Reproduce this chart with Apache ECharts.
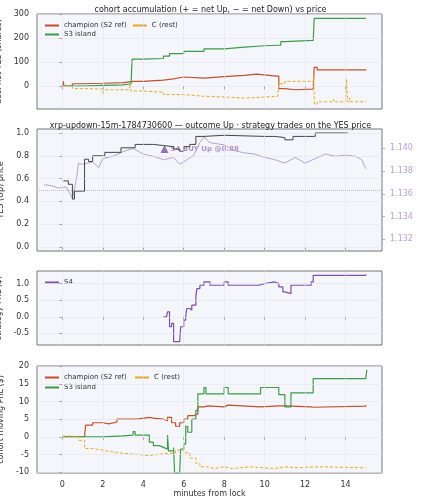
<!DOCTYPE html>
<html><head><meta charset="utf-8">
<script src="https://cdn.jsdelivr.net/npm/echarts@6/dist/echarts.min.js"></script>
<style>html,body{margin:0;padding:0;background:#fff}#c{width:421px;height:500px}</style>
</head><body><div id="c"></div>
<script>
// panel 1: accumulated net YES shares
var accChampion = [[0,0],[0.05,20],[0.08,0],[0.5,10],[1,12],[2,15],[3,20],[3.5,20],[4,25],[5,30],[5.5,35],[5.8,38],[6,33],[7,40],[8,45],[9,50],[9.6,42],[10.6,42],[10.7,-10],[11,-15],[11.5,-12],[12.4,-12],[12.45,78],[12.6,68],[15,65]];
var accS3 = [[0,0],[1,3],[2,5],[3,10],[3.4,10],[3.45,112],[4,115],[5,125],[5.3,135],[6,145],[7,155],[8,162],[9,168],[10,170],[10.7,170],[10.8,185],[11,190],[12.4,193],[12.45,282],[15,282]];
var accC = [[0,0],[0.5,-10],[1,-12],[2,-15],[2.02,-35],[2.05,-15],[3.3,-18],[3.35,10],[3.4,-20],[4,-25],[5,-35],[6,-42],[7,-45],[8,-50],[9,-45],[10,-42],[10.65,-42],[10.7,10],[11,20],[12.4,10],[12.42,40],[12.46,-75],[12.6,-65],[13,-60],[13.05,-65],[13.4,-55],[13.45,-65],[14,-60],[14.05,30],[14.1,-65],[14.2,-50],[14.25,-65],[15,-65]];
// panel 2: YES price and XRP/USD
var yesPrice = [[0.05,0.58],[0.3,0.55],[0.5,0.42],[0.6,0.49],[1,0.49],[1.1,0.77],[1.3,0.75],[1.5,0.8],[2,0.8],[2.1,0.83],[2.8,0.83],[2.9,0.87],[3.5,0.87],[3.6,0.9],[4.2,0.9],[4.5,0.89],[5,0.88],[5.5,0.86],[5.8,0.84],[6.0,0.88],[6.3,0.9],[6.6,0.97],[7,0.98],[8,0.97],[10,0.97],[10.5,0.96],[11,0.94],[11.4,0.97],[12.4,0.97],[12.5,1.0],[14.1,1.0]];
var xrpUsd = [[-0.9,1.1368],[-0.5,1.1367],[-0.2,1.1365],[0.2,1.1366],[0.5,1.1356],[0.7,1.1373],[0.8,1.1387],[1,1.1386],[1.5,1.1388],[1.8,1.1383],[2,1.1391],[2.5,1.1393],[3,1.1397],[3.5,1.14],[4,1.1395],[4.5,1.1393],[5,1.139],[5.5,1.1392],[5.8,1.1386],[6,1.1388],[6.5,1.1394],[6.8,1.1405],[7,1.141],[7.3,1.1405],[8,1.1403],[8.5,1.1398],[9,1.1396],[9.5,1.1395],[10,1.1392],[10.5,1.139],[11,1.1387],[11.5,1.1392],[12,1.1387],[12.5,1.1391],[13,1.1395],[13.5,1.1393],[14,1.1394],[14.5,1.1393],[14.8,1.139],[15,1.1382]];
var trades = [[5.05,0.86]];
var tradeLabel = 'S4 BUY Up @0.88';
// panel 3: S4 strategy PnL
var pnlS4 = [[5,0],[5.15,0],[5.2,0.15],[5.3,-0.3],[5.4,-0.2],[5.5,-0.75],[5.8,-0.75],[5.85,-0.3],[6,-0.1],[6.1,0],[6.15,0.25],[6.3,0.2],[6.4,0.35],[6.6,0.6],[6.65,0.85],[6.8,0.95],[7,1.05],[7.3,0.95],[8,1.05],[8.2,0.95],[9.7,1.0],[10,1.05],[10.5,1.0],[10.7,0.9],[10.9,0.75],[11,0.7],[11.3,0.95],[12.3,1.05],[12.4,1.25],[14,1.25],[15,1.28]];
// panel 4: cohort moving PnL
var pnlChampion = [[0,0],[1.1,0],[1.15,3.3],[1.5,4],[2,3.7],[2.3,4.2],[2.7,5],[3.5,5],[3.7,5.5],[4.3,5.3],[4.5,5],[5,4.6],[5.2,5.5],[5.4,4],[5.6,3],[5.8,4],[6,5],[6.2,6],[6.5,6.5],[6.7,8.5],[7,8.8],[7.2,8.5],[8,9],[8.2,8.5],[9.8,8.8],[10.7,8.8],[11,8.5],[12.3,8.4],[12.4,8.7],[15,9]];
var pnlS3 = [[0,0],[1,0],[2,0.3],[3,0.5],[3.5,1.5],[3.6,0.5],[4.2,0.5],[4.3,-1.5],[4.5,-2.5],[4.7,-2.5],[4.8,-3],[5,-3.5],[5.2,0.5],[5.25,-4],[5.5,-3],[5.55,-10.2],[5.8,-10.2],[5.85,-3.5],[6,-2],[6.1,3],[6.2,1.3],[6.4,5],[6.6,7.5],[6.7,12.2],[7,14],[7.1,12.2],[8,14],[8.2,12.2],[9.8,14],[10.7,12],[11,8.5],[11.3,12.5],[12.4,16.5],[15,16.5],[15.05,19]];
var pnlC = [[0,0.2],[0.5,0],[0.8,-1],[1.1,-3.3],[1.5,-3.8],[2,-4],[2.2,-4.5],[2.7,-4.8],[3.3,-5],[3.7,-5.3],[4.2,-5.3],[4.3,-4.8],[5,-4.7],[5.4,-4.5],[5.6,-3.8],[6,-4.5],[6.3,-6],[6.6,-7.5],[6.8,-8.5],[7.2,-9],[7.5,-8.5],[8,-9],[8.4,-8.5],[9.3,-8.7],[9.7,-9],[10.5,-8.5],[11,-8.8],[11.5,-8.5],[12.6,-8.5],[12.7,-8.8],[15,-8.9]];
var xTicks = [0,2,4,6,8,10,12,14];

var cRed = '#c1502e', cGreen = '#3d9a4b', cOrange = '#e6a82a', cPurple = '#7f4fa8', cGray = '#444', cXrp = '#b7a2d3';
var font = 'DejaVu Sans';
var grids = [
  {left:37, right:39, top:14, height:95},
  {left:37, right:39, top:129, height:122},
  {left:37, right:39, top:271, height:74},
  {left:37, right:39, top:366, height:107}
];
grids.forEach(function (g) {
  g.show = true; g.backgroundColor = '#f4f6fb'; g.borderColor = '#777'; g.borderWidth = 1;
  g.containLabel = false; g.outerBoundsMode = 'none';
});

function xAx(i, labels) {
  return {type:'value', gridIndex:i, min:-1.25, max:15.8,
    axisLine:{show:false}, splitLine:{show:false},
    axisTick:{show:true, customValues:xTicks, length:3, lineStyle:{color:'#444'}},
    axisLabel:{show:labels, customValues:xTicks, fontFamily:font, fontSize:8, color:'#333'},
    name: labels ? 'minutes from lock' : '', nameLocation:'middle', nameGap:16,
    nameTextStyle:{fontFamily:font, fontSize:8, color:'#333'}};
}
function yAx(i, min, max, ticks, name, gap, digits) {
  return {type:'value', gridIndex:i, min:min, max:max,
    axisLine:{show:false}, axisTick:{show:true, length:3, customValues:ticks, lineStyle:{color:'#444'}},
    splitLine:{show:false},
    axisLabel:{customValues:ticks, fontFamily:font, fontSize:8, color:'#333',
      formatter:function (v) { return digits ? v.toFixed(digits) : String(Math.round(v)); }},
    name:name, nameLocation:'middle', nameGap:gap, nameTextStyle:{fontFamily:font, fontSize:8, color:'#333'}};
}
var yTicks = [[0,100,200,300],[0,0.2,0.4,0.6,0.8,1.0],[-0.5,0,0.5,1.0],[-10,-5,0,5,10,15,20]];
var y0 = yAx(0, -95, 300, yTicks[0], 'acc. net YES (shares)', 20, 0);
var y1 = yAx(1, -0.035, 1.035, yTicks[1], 'YES (Up) price', 22, 1);
var xrpTicks = [1.132,1.134,1.136,1.138,1.14];
var y1r = {type:'value', gridIndex:1, position:'right', min:1.13097, max:1.1417,
  axisLine:{show:false}, splitLine:{show:false},
  axisTick:{show:true, length:3, customValues:xrpTicks, lineStyle:{color:cXrp}},
  axisLabel:{customValues:xrpTicks, fontFamily:font, fontSize:8, color:cXrp,
    formatter:function (v) { return v.toFixed(3); }},
  name:'XRP/USD (strike dotted = YES 0.5)', nameLocation:'middle', nameGap:30, nameRotate:-90,
  nameTextStyle:{fontFamily:font, fontSize:7, color:cXrp}};
var y2 = yAx(2, -0.85, 1.38, yTicks[2], 'strategy PnL ($)', 22, 1);
var y3 = yAx(3, -10.26, 20.1, yTicks[3], 'cohort moving PnL ($)', 20, 0);

function ln(name, data, xi, yi, color, dashed, width) {
  return {name:name, type:'line', step:'end', data:data, xAxisIndex:xi, yAxisIndex:yi, symbol:'none',
    lineStyle:{color:color, width:width || 1.2, type:dashed ? [3,2] : 'solid'}, itemStyle:{color:color}};
}
// light grid lines per panel
function gridLines(xi, yi, ys) {
  var d = xTicks.map(function (x) { return {xAxis:x}; }).concat(ys.map(function (y) { return {yAxis:y}; }));
  return {name:'', type:'line', data:[], xAxisIndex:xi, yAxisIndex:yi, silent:true, z:1,
    markLine:{silent:true, symbol:'none', label:{show:false}, animation:false,
      lineStyle:{color:'#e3e5eb', width:0.6, type:'solid'}, data:d}};
}
var series = [
  gridLines(0,0,yTicks[0]), gridLines(1,1,yTicks[1]), gridLines(2,3,yTicks[2]), gridLines(3,4,yTicks[3]),
  {name:'', type:'line', data:[], xAxisIndex:1, yAxisIndex:1, silent:true,
    markLine:{silent:true, symbol:'none', label:{show:false}, lineStyle:{color:'#bbb', width:1, type:'dotted'}, data:[{yAxis:0.5}]}},
  ln('champion (S2 ref)', accChampion, 0, 0, cRed),
  ln('S3 island', accS3, 0, 0, cGreen),
  ln('C (rest)', accC, 0, 0, cOrange, true, 1),
  {name:'xrp', type:'line', data:xrpUsd, xAxisIndex:1, yAxisIndex:2, symbol:'none', lineStyle:{color:cXrp, width:1}},
  ln('yes', yesPrice, 1, 1, cGray, false, 1),
  {name:'trade', type:'scatter', data:trades, xAxisIndex:1, yAxisIndex:1, symbol:'triangle', symbolSize:8,
    itemStyle:{color:cPurple}, label:{show:true, formatter:tradeLabel, position:'right', distance:2,
    fontFamily:font, fontSize:7, fontWeight:'bold', color:'#9a7cc0'}},
  ln('S4', pnlS4, 2, 3, cPurple),
  ln('champion (S2 ref) ', pnlChampion, 3, 4, cRed),
  ln('S3 island ', pnlS3, 3, 4, cGreen),
  ln('C (rest) ', pnlC, 3, 4, cOrange, true, 1)
];
function legend(names, left, top, w) {
  return {data:names, left:left, top:top, width:w, orient:'horizontal', itemWidth:14, itemHeight:2, itemGap:6,
    icon:'rect', textStyle:{fontFamily:font, fontSize:7, color:'#333'}, selectedMode:false};
}
var chart = echarts.init(document.getElementById('c'));
chart.setOption({
  animation:false,
  title:[
    {text:'cohort accumulation (+ = net Up, − = net Down) vs price', left:'center', top:1, textStyle:{fontFamily:font, fontSize:8, fontWeight:'normal', color:'#222'}},
    {text:'xrp-updown-15m-1784730600 — outcome Up · strategy trades on the YES price', left:'center', top:117, textStyle:{fontFamily:font, fontSize:8, fontWeight:'normal', color:'#222'}}
  ],
  grid:grids,
  xAxis:[xAx(0,false), xAx(1,false), xAx(2,false), xAx(3,true)],
  yAxis:[y0, y1, y1r, y2, y3],
  legend:[
    legend(['champion (S2 ref)','C (rest)'], 40, 17, 140),
    legend(['S3 island'], 40, 26, 100),
    legend(['S4'], 40, 274, 60),
    legend(['champion (S2 ref) ','C (rest) '], 40, 369, 140),
    legend(['S3 island '], 40, 379, 100)
  ],
  series:series
});
window.addEventListener('resize', function () { chart.resize(); });
</script>
</body></html>
